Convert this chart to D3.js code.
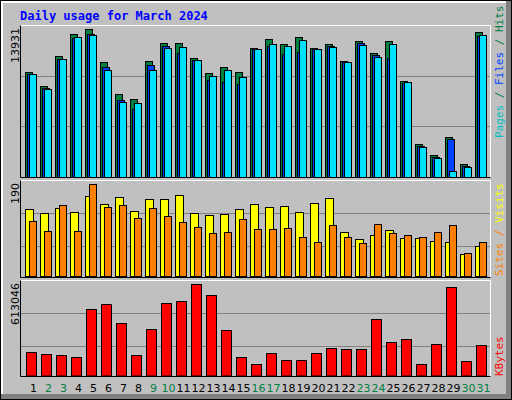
<!DOCTYPE html>
<html><head><meta charset="utf-8">
<script src="https://cdn.jsdelivr.net/npm/d3@7"></script>
<style>body{margin:0;background:#fff}</style></head><body>
<script>
const days = d3.range(1,32);
const weekend = [2,3,9,10,16,17,23,24,30,31];
const hits = [9897,8573,11378,13490,13931,10842,7785,7344,10937,12639,12639,11220,9802,10370,9897,12166,13017,12544,13206,12166,12544,10937,12828,11693,12828,9046,3089,2049,3751,1198,13679];
const files = [9708,8384,11126,13112,13427,10370,7249,6398,10559,12355,11693,11032,9140,8951,8762,12072,12355,11599,11788,12072,12355,10842,12639,11504,11220,8857,2900,1860,3562,1009,13301];
const pages = [9676,8289,11126,13206,13396,10086,7060,6966,10086,12166,12261,11032,9519,10086,9424,12072,12544,12355,12923,12072,12261,10842,12450,11315,12544,8951,2805,1765,536,914,13396];
const visits = [138,130,140,132,165,149,163,134,159,159,167,130,126,128,138,149,142,144,132,151,161,91,76,85,95,78,78,72,70,45,62];
const sites = [114,93,147,93,190,142,147,120,140,124,111,101,89,91,118,97,97,99,80,70,105,80,68,107,89,85,80,91,105,47,70];
const kbytes = [156030,142656,135969,122595,443571,477006,349953,135969,309831,483693,497067,613046,537189,303144,122595,75786,149343,102534,102534,149343,182778,176091,176091,376701,222900,242961,75786,209526,590685,95847,202839];

const svg = d3.select("body").append("svg").attr("width",512).attr("height",400);
svg.append("rect").attr("x",0).attr("y",0).attr("width",512).attr("height",400).attr("fill","#000");
svg.append("rect").attr("x",1).attr("y",1).attr("width",510).attr("height",398).attr("fill","#808080");
svg.append("rect").attr("x",1).attr("y",1).attr("width",505).attr("height",393).attr("fill","#fff");
svg.append("rect").attr("x",3).attr("y",3).attr("width",503).attr("height",391).attr("fill","#C0C0C0");

svg.append("text").attr("x",20).attr("y",20).attr("fill","#0000FF")
  .attr("font-family","DejaVu Sans Mono").attr("font-weight","bold").attr("font-size",12)
  .text("Daily usage for March 2024");

const x = d3.scaleBand().domain(days).range([25,490]).paddingInner(0).paddingOuter(0);

function panel(y0,y1){
  const g = svg.append("g");
  g.append("rect").attr("x",20).attr("y",y0).attr("width",471).attr("height",y1-y0).attr("fill","#C0C0C0");
  g.append("path").attr("d",`M20.5,${y0+.5}H490.5V${y1+.5}`).attr("stroke","#fff").attr("fill","none");
  g.append("path").attr("d",`M20.5,${y0+.5}V${y1+.5}H490.5`).attr("stroke","#000").attr("fill","none");
  return g;
}
function grid(g,y,vals){ vals.forEach(v=>g.append("line").attr("x1",21).attr("x2",490).attr("y1",Math.round(y(v))+.5).attr("y2",Math.round(y(v))+.5).attr("stroke","#808080")); }
function bars(g,data,y,off,w,color){
  g.selectAll(null).data(data).enter().append("rect")
   .attr("x",(d,i)=>x(days[i])+off+.5).attr("y",d=>Math.round(y(d))+.5)
   .attr("width",w).attr("height",d=>y(0)-Math.round(y(d)))
   .attr("fill",color).attr("stroke","#000");
}
function ylab(txt,xp,yp){
  svg.append("text").attr("transform",`translate(${xp},${yp}) rotate(-90)`).attr("text-anchor","end")
   .attr("font-family","DejaVu Sans").attr("font-size",11).attr("fill","#000").text(txt);
}
function rlab(parts,yp){
  const t = svg.append("text").attr("transform",`translate(503,${yp}) rotate(-90)`)
   .attr("font-family","DejaVu Sans Mono").attr("font-size",11);
  parts.forEach(p=>t.append("tspan").attr("fill",p[1]).text(p[0]));
}

// top
const g1 = panel(25,177);
const y1 = d3.scaleLinear().domain([0,13931]).range([177,29]);
grid(g1,d3.scaleLinear().domain([0,3]).range([177,25]),[1,2]);
bars(g1,hits,y1,0,7,"#008040");
bars(g1,files,y1,2,7,"#0040FF");
bars(g1,pages,y1,4,7,"#00E0FF");
ylab("13931",19,28);
rlab([["Pages","#00C0C0"],[" / ","#008040"],["Files","#0040FF"],[" / ","#008040"],["Hits","#008040"]],138);

// middle
const g2 = panel(180,277);
const y2 = d3.scaleLinear().domain([0,190]).range([276,184]);
grid(g2,d3.scaleLinear().domain([0,3]).range([279,180]),[1,2]);
bars(g2,visits,y2,0,8,"#FFFF00");
bars(g2,sites,y2,4,7,"#FF8000");
ylab("190",19,183);
rlab([["Sites","#FF8000"],[" / ","#FF8000"],["Visits","#FFFF00"]],276);

// bottom
const g3 = panel(280,376);
const y3 = d3.scaleLinear().domain([0,613046]).range([375.5,284]);
grid(g3,d3.scaleLinear().domain([0,3]).range([379,280]),[1,2]);
bars(g3,kbytes,y3,1,10,"#FF0000");
ylab("613046",19,283);
rlab([["KBytes","#FF0000"]],376);

svg.selectAll(null).data(days).enter().append("text")
 .attr("x",d=>x(d)+8.5).attr("y",392).attr("text-anchor","middle")
 .attr("font-family","DejaVu Sans").attr("font-size",11)
 .attr("fill",d=>weekend.includes(d)?"#008040":"#000").text(d=>d);
</script></body></html>
